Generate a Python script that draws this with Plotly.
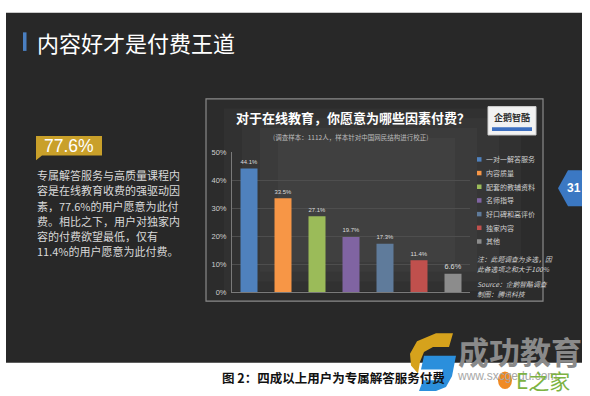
import plotly.graph_objects as go

W, H = 590, 396

# ---------------- data ----------------
categories = ["一对一解答服务", "内容质量", "配套的教辅资料", "名师指导",
              "好口碑和高评价", "独家内容", "其他"]
values = [44.1, 33.5, 27.1, 19.7, 17.3, 11.4, 6.6]
bar_colors = ["#4f81bd", "#f79646", "#9bbb59", "#8064a2", "#5f7b9b", "#c0504d", "#8c8c8c"]
y_tick_vals = [0, 10, 20, 30, 40, 50]
y_tick_text = ["0%", "10%", "20%", "30%", "40%", "50%"]

slide_title = "内容好才是付费王道"
chart_title = "对于在线教育，你愿意为哪些因素付费？"
chart_subtitle = "(调查样本：1112人，样本针对中国网民结构进行校正)"
highlight = "77.6%"
paragraph = ["专属解答服务与高质量课程内",
             "容是在线教育收费的强驱动因",
             "素，77.6%的用户愿意为此付",
             "费。相比之下，用户对独家内",
             "容的付费欲望最低，仅有",
             "11.4%的用户愿意为此付费。"]
notes = ["注：此题调查为多选，因", "此各选项之和大于100%"]
sources = ["Source：企鹅智酷调查", "制图：腾讯科技"]
caption = "图 2：四成以上用户为专属解答服务付费"

CJK = "Noto Sans CJK SC"


def px(x):
    return x / W


def py(y):
    return 1 - y / H


def rect(x0, y0, x1, y1, **kw):
    return dict(type="rect", xref="paper", yref="paper",
                x0=px(x0), x1=px(x1), y0=py(y1), y1=py(y0), **kw)


def path(pts, **kw):
    d = "M " + " L ".join(f"{px(x):.5f},{py(y):.5f}" for x, y in pts) + " Z"
    return dict(type="path", xref="paper", yref="paper", path=d, **kw)


def text(x, y, s, size, color, xanchor="left", yanchor="middle", family=CJK, **kw):
    return dict(x=px(x), y=py(y), xref="paper", yref="paper", text=s, showarrow=False,
                xanchor=xanchor, yanchor=yanchor,
                font=dict(size=size, color=color, family=family, **kw))


fig = go.Figure()
fig.add_trace(go.Bar(
    x=categories, y=values,
    marker=dict(color=bar_colors, line=dict(width=0)),
    text=[f"{v}%" for v in values], textposition="outside",
    textfont=dict(size=7.5, color="#dddddd", family="Arial"),
    cliponaxis=False, showlegend=False, hoverinfo="skip",
))

shapes = []
annotations = []

# slide background
shapes.append(rect(6, 9, 582, 367, fillcolor="#282828", line=dict(width=0), layer="below"))
# title accent bar
shapes.append(rect(23, 29, 26.5, 48, fillcolor="#4a7fc1", line=dict(width=0), layer="below"))
annotations.append(text(35, 38.5, slide_title, 22, "#ffffff"))

# gold highlight box
shapes.append(path([(36, 135), (102, 135), (102, 155), (42, 155), (36, 160)],
                   fillcolor="#c9a02a", line=dict(width=0), layer="below"))
annotations.append(text(69, 145.5, highlight, 17.5, "#ffffff", xanchor="center", family="Arial"))
for i, line in enumerate(paragraph):
    annotations.append(text(35, 175 + 15.6 * i, line, 11, "#d9d9d9"))

# chart panel with soft radial-ish gradient
shapes.append(rect(206, 97, 543, 304, fillcolor="#2c2c2c", line=dict(color="#8a8a8a", width=1.2), layer="below"))
for k in range(1, 5):
    shapes.append(rect(206 + 18 * k, 97 + 10 * k, 543 - 22 * k, 304 - 10 * k,
                       fillcolor="rgba(255,255,255,0.028)", line=dict(width=0), layer="below"))

annotations.append(text(353, 116, chart_title, 13, "#ffffff", xanchor="center", weight="bold"))
annotations.append(text(350, 136, chart_subtitle, 6.5, "#bdbdbd", xanchor="center"))

# logo box in panel
shapes.append(rect(488, 105, 536, 134, fillcolor="#f2f2f2", line=dict(color="#cfcfcf", width=1), layer="below"))
shapes.append(rect(492, 126, 532, 130, fillcolor="#3d6fc0", line=dict(width=0), layer="below"))
annotations.append(text(512, 116, "企鹅智酷", 9, "#333333", xanchor="center", weight="bold"))

# legend (manual)
for i, (name, col) in enumerate(zip(categories, bar_colors)):
    yc = 159 + 14 * i
    shapes.append(rect(477, yc - 2.3, 481.5, yc + 2.3, fillcolor=col, line=dict(width=0)))
    annotations.append(text(484, yc, name, 7, "#cfcfcf"))

for i, line in enumerate(notes):
    annotations.append(text(475, 261 + 10.5 * i, f"<i>{line}</i>", 6.8, "#d0d0d0"))
for i, line in enumerate(sources):
    annotations.append(text(475, 286 + 11 * i, f"<i>{line}</i>", 6.8, "#d0d0d0"))

# page number tab
shapes.append(path([(558, 188.5), (568, 170), (582, 170), (582, 207), (568, 207)],
                   fillcolor="#3b78c3", line=dict(width=0)))
annotations.append(text(574, 188.5, "31", 12, "#ffffff", xanchor="center", family="Arial", weight="bold"))

# caption below slide
annotations.append(text(220, 382, caption, 12.5, "#111111", weight="bold"))

# watermark logo
shapes.append(path([(436, 337), (453, 337), (449, 351), (433, 351), (424, 356), (420, 366),
                    (418, 378), (411, 370), (410, 358), (417, 345)],
                   fillcolor="#d6a21c", line=dict(width=0)))
shapes.append(path([(424, 360), (456, 360), (452, 381), (446, 392), (436, 396), (419, 396),
                    (423, 385), (437, 385), (441, 381), (443, 374), (421, 374)],
                   fillcolor="#2b8fdc", line=dict(width=0)))
annotations.append(text(520, 355, "成功教育", 31, "#8a8a8a", xanchor="center", weight="bold"))
annotations.append(text(455, 381, "www.sxcgedu.com", 12, "#a8a8a8", family="Arial"))
shapes.append(dict(type="circle", xref="paper", yref="paper", x0=px(498), x1=px(512),
                   y0=py(394), y1=py(376), fillcolor="#f08a24", line=dict(width=0)))
annotations.append(text(514, 385, "E之家", 21, "#7cb342"))

fig.update_layout(
    width=W, height=H,
    margin=dict(l=0, r=0, t=0, b=0),
    paper_bgcolor="#ffffff", plot_bgcolor="rgba(0,0,0,0)",
    bargap=0.5,
    showlegend=False,
    shapes=shapes, annotations=annotations,
    xaxis=dict(domain=[px(232), px(470)], showticklabels=False, showgrid=False,
               showline=True, linecolor="#7a7a7a", linewidth=1, ticks="", zeroline=False,
               fixedrange=True),
    yaxis=dict(domain=[py(295), py(151.5)], range=[0, 50], tickvals=y_tick_vals,
               ticktext=y_tick_text, tickfont=dict(size=7.5, color="#cfcfcf", family="Arial"),
               showgrid=True, gridcolor="#4e4e4e", gridwidth=1, zeroline=False,
               showline=True, linecolor="#7a7a7a", linewidth=1, ticks="", ticklabelstandoff=3,
               fixedrange=True),
)

fig.write_html("out.html", config={"displayModeBar": False},
               post_script="document.body.style.margin='0';document.body.style.overflow='hidden';")
